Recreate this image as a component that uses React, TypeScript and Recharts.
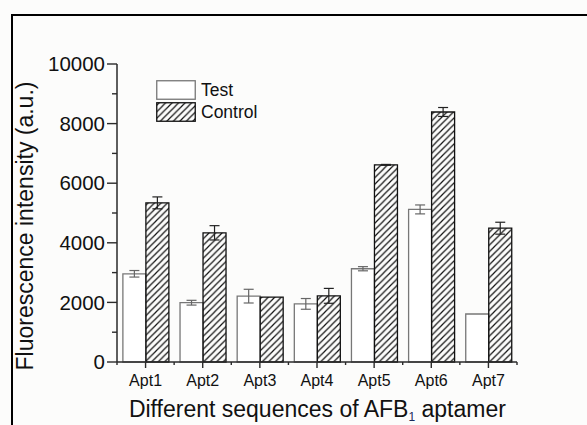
import React from 'react';
import { BarChart, Bar, XAxis, YAxis, ErrorBar, Legend } from 'recharts';

const categories = ['Apt1', 'Apt2', 'Apt3', 'Apt4', 'Apt5', 'Apt6', 'Apt7'];
const testValues = [2960, 1990, 2210, 1950, 3130, 5120, 1610];
const testErrors = [110, 80, 230, 180, 70, 150, 0];
const controlValues = [5340, 4335, 2180, 2220, 6615, 8390, 4490];
const controlErrors = [200, 240, 0, 250, 15, 150, 200];
const yTicks = [0, 1000, 2000, 3000, 4000, 5000, 6000, 7000, 8000, 9000, 10000];
const seriesNames = ['Test', 'Control'];

const data = categories.map((name, i) => ({
  name,
  test: testValues[i],
  testErr: testErrors[i],
  control: controlValues[i],
  controlErr: controlErrors[i],
}));

const FONT = 'Liberation Sans, Arial, sans-serif';
const AXIS = '#2a2a2a';
const PLOT_W = 400;
const BAND = PLOT_W / categories.length;

const YTick = (props: any) => {
  const { x, y, payload } = props;
  const v = payload.value;
  const major = v % 2000 === 0;
  return (
    <g>
      <line x1={x - (major ? 10 : 5)} x2={x} y1={y} y2={y} stroke={AXIS} strokeWidth={1.4} />
      {major && (
        <text x={x - 12} y={y} dy="0.35em" textAnchor="end" fontSize={20.5} fill="#111" fontFamily={FONT}>
          {v}
        </text>
      )}
    </g>
  );
};

const XTick = (props: any) => {
  const { x, y, payload, index } = props;
  return (
    <g>
      <line x1={x} x2={x} y1={y} y2={y + 6} stroke={AXIS} strokeWidth={1.4} />
      <line x1={x + BAND / 2} x2={x + BAND / 2} y1={y} y2={y + 3} stroke={AXIS} strokeWidth={1.4} />
      {index === 0 && <line x1={x - BAND / 2} x2={x - BAND / 2} y1={y} y2={y + 3} stroke={AXIS} strokeWidth={1.4} />}
      <text x={x} y={y + 18} dy="0.35em" textAnchor="middle" fontSize={16} fill="#111" fontFamily={FONT}>
        {payload.value}
      </text>
    </g>
  );
};

const renderLegend = (props: any) => {
  return (
    <svg width={140} height={45} style={{ display: 'block' }}>
      {seriesNames.map((n, i) => (
        <g key={n}>
          <rect
            x={0.75}
            y={0.75 + i * 22}
            width={38.5}
            height={18.5}
            fill={i === 0 ? '#fff' : 'url(#hatch)'}
            stroke={i === 0 ? '#777' : '#111'}
            strokeWidth={1.3}
          />
          <text x={45} y={10 + i * 21.5} dy="0.35em" fontSize={17.5} fill="#111" fontFamily={FONT}>
            {n}
          </text>
        </g>
      ))}
    </svg>
  );
};

const XTitle = () => (
  <text x={317.4} y={417} textAnchor="middle" fontSize={23} fill="#111" fontFamily={FONT}>
    Different sequences of AFB
    <tspan fontSize={12} dy={4} fill="#1a2a5a">1</tspan>
    <tspan dy={-4}> aptamer</tspan>
  </text>
);

const YTitle = () => (
  <text
    x={25}
    y={226}
    dy="0.35em"
    textAnchor="middle"
    fontSize={23}
    fill="#111"
    fontFamily={FONT}
    transform="rotate(-90, 25, 226)"
  >
    Fluorescence intensity (a.u.)
  </text>
);

export default function App() {
  return (
    <div style={{ position: 'absolute', left: 0, top: 0, width: 587, height: 425, overflow: 'hidden', background: '#fcfcfb' }}>
      <div
        style={{
          position: 'absolute',
          left: 11,
          top: 14,
          width: 620,
          height: 460,
          border: '2px solid #000',
          boxSizing: 'border-box',
        }}
      />
      <div style={{ position: 'absolute', left: 0, top: 0 }}>
        <BarChart
          width={587}
          height={425}
          data={data}
          margin={{ top: 64, right: 70, bottom: 33, left: 0 }}
          barCategoryGap="10.3%"
          barGap={0}
        >
          <defs>
            <pattern id="hatch" patternUnits="userSpaceOnUse" width={6.5} height={6.5}>
              <path d="M0,6.5 L6.5,0 M-1,1 L1,-1 M5.5,7.5 L7.5,5.5" stroke="#111" strokeWidth={1.2} />
            </pattern>
          </defs>
          <XAxis
            dataKey="name"
            interval={0}
            height={30}
            tickSize={0}
            tickMargin={0}
            tickLine={false}
            tick={(p: any) => <XTick {...p} />}
            axisLine={{ stroke: AXIS, strokeWidth: 1.5 }}
            label={{ content: () => <XTitle /> }}
          />
          <XAxis
            xAxisId="top"
            orientation="top"
            dataKey="name"
            height={0}
            tick={false}
            tickLine={false}
            axisLine={{ stroke: AXIS, strokeWidth: 1.5 }}
          />
          <YAxis
            width={117}
            domain={[0, 10000]}
            ticks={yTicks}
            interval={0}
            tickSize={0}
            tickMargin={0}
            tickLine={false}
            tick={(p: any) => <YTick {...p} />}
            axisLine={{ stroke: AXIS, strokeWidth: 1.5 }}
            label={{ content: () => <YTitle /> }}
          />
          <YAxis
            yAxisId="right"
            orientation="right"
            width={0}
            domain={[0, 10000]}
            tick={false}
            tickLine={false}
            axisLine={{ stroke: AXIS, strokeWidth: 1.5 }}
          />
          <Legend
            layout="vertical"
            verticalAlign="middle"
            align="center"
            content={renderLegend}
            wrapperStyle={{ position: 'absolute', left: 156, top: 80, width: 140, height: 45 }}
          />
          <Bar dataKey="test" name="Test" fill="#fff" stroke="#777" strokeWidth={1.3} isAnimationActive={false}>
            <ErrorBar dataKey="testErr" width={5} stroke="#666" strokeWidth={1.2} />
          </Bar>
          <Bar dataKey="control" name="Control" fill="url(#hatch)" stroke="#111" strokeWidth={1.3} isAnimationActive={false}>
            <ErrorBar dataKey="controlErr" width={5} stroke="#222" strokeWidth={1.2} />
          </Bar>
        </BarChart>
      </div>
    </div>
  );
}
